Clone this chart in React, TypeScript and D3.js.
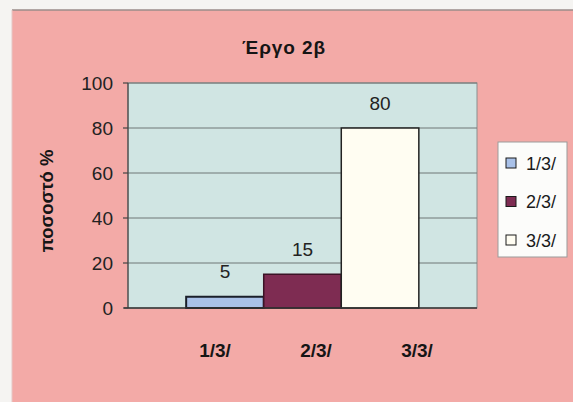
import React from "react";
import * as d3 from "d3";

// Chart data
const TITLE = "Έργο 2β";
const Y_TITLE = "ποσοστό %";
const series = ["1/3/", "2/3/", "3/3/"];
const values = [5, 15, 80];
const seriesColors = ["#a9c1e8", "#7e2c52", "#fffdf2"];
const seriesStrokes = ["#1a1f2a", "#3b1326", "#222222"];
const yTicks = [0, 20, 40, 60, 80, 100];
const categoryLabels = ["1/3/", "2/3/", "3/3/"];

const W = 573;
const H = 402;
const FONT = "'Liberation Sans', Arial, Helvetica, sans-serif";

export default function App() {
  React.useEffect(() => {
    document.body.style.margin = "0";
  }, []);

  const plot = { left: 128, right: 477, top: 83, bottom: 308 };

  const y = d3.scaleLinear().domain([0, 100]).range([plot.bottom, plot.top]);

  // one bar group centred in the plot, one bar per series
  const xGroup = d3
    .scaleBand<string>()
    .domain(["all"])
    .range([plot.left, plot.right])
    .paddingInner(0)
    .paddingOuter(0.25);
  const x1 = d3
    .scaleBand<string>()
    .domain(series)
    .range([0, xGroup.bandwidth()])
    .padding(0);
  const g0 = xGroup("all") ?? 0;

  // axis labels under the plot
  const xLab = d3.scalePoint<string>().domain(categoryLabels).range([215, 417]);

  const legend = { x: 498, y: 142, w: 69, h: 115 };
  const legendY = d3
    .scalePoint<string>()
    .domain(series)
    .range([legend.y + 21, legend.y + 98]);

  return (
    <svg width={W} height={H} style={{ display: "block" }} fontFamily={FONT}>
      <rect x={0} y={0} width={W} height={H} fill="#f5f4f2" />
      <rect x={12} y={10} width={W - 12} height={H - 10} fill="#f3aaa7" />
      <line x1={12} x2={W} y1={10} y2={10} stroke="#9a8c8a" strokeWidth={1.5} />
      <line x1={12} x2={12} y1={10} y2={H} stroke="#e6c8c6" strokeWidth={1} />

      {/* title */}
      <text
        x={284}
        y={53.5}
        textAnchor="middle"
        fontSize={19}
        fontWeight="bold"
        fill="#151515"
        letterSpacing={0.9}
      >
        {TITLE}
      </text>

      {/* plot area */}
      <rect
        x={plot.left}
        y={plot.top}
        width={plot.right - plot.left}
        height={plot.bottom - plot.top}
        fill="#d0e5e3"
        stroke="#8a8f90"
        strokeWidth={1}
      />

      {/* gridlines */}
      {yTicks
        .filter((t) => t > 0)
        .map((t) => (
          <line
            key={"g" + t}
            x1={plot.left}
            x2={plot.right}
            y1={y(t)}
            y2={y(t)}
            stroke="#6f7676"
            strokeWidth={1}
          />
        ))}

      {/* bars */}
      {series.map((s, i) => {
        const bx = g0 + (x1(s) ?? 0);
        const bw = x1.bandwidth();
        return (
          <rect
            key={s}
            x={bx}
            y={y(values[i])}
            width={bw}
            height={y(0) - y(values[i])}
            fill={seriesColors[i]}
            stroke={seriesStrokes[i]}
            strokeWidth={i === 0 ? 2 : 1.5}
          />
        );
      })}

      {/* value labels */}
      {series.map((s, i) => (
        <text
          key={"v" + s}
          x={g0 + (x1(s) ?? 0) + x1.bandwidth() / 2}
          y={y(values[i]) - 18.5}
          textAnchor="middle"
          fontSize={19}
          fill="#222"
        >
          {values[i]}
        </text>
      ))}

      {/* y axis */}
      <line
        x1={plot.left}
        x2={plot.left}
        y1={plot.top}
        y2={plot.bottom}
        stroke="#444"
        strokeWidth={1.2}
      />
      <line
        x1={plot.left - 4}
        x2={plot.right}
        y1={plot.bottom}
        y2={plot.bottom}
        stroke="#333"
        strokeWidth={1.5}
      />
      {yTicks.map((t) => (
        <g key={"t" + t}>
          <line
            x1={plot.left - 5}
            x2={plot.left}
            y1={y(t)}
            y2={y(t)}
            stroke="#444"
            strokeWidth={1.2}
          />
          <text
            x={113}
            y={y(t) + 7}
            textAnchor="end"
            fontSize={19}
            fill="#222"
          >
            {t}
          </text>
        </g>
      ))}

      {/* y axis title */}
      <text
        transform={`translate(53,201) rotate(-90)`}
        textAnchor="middle"
        fontSize={18.5}
        fontWeight="bold"
        fill="#151515"
      >
        {Y_TITLE}
      </text>

      {/* category labels */}
      {categoryLabels.map((c) => (
        <text
          key={"c" + c}
          x={xLab(c)}
          y={357}
          textAnchor="middle"
          fontSize={19}
          fontWeight="bold"
          fill="#151515"
        >
          {c}
        </text>
      ))}

      {/* legend */}
      <rect
        x={legend.x}
        y={legend.y}
        width={legend.w}
        height={legend.h}
        fill="#fcfcfa"
        stroke="#9b9b9b"
        strokeWidth={1}
      />
      {series.map((s, i) => {
        const cy = legendY(s) ?? 0;
        return (
          <g key={"l" + s}>
            <rect
              x={506}
              y={cy - 5}
              width={10}
              height={10}
              fill={seriesColors[i]}
              stroke="#1a1a1a"
              strokeWidth={1}
            />
            <text x={526} y={cy + 6.5} fontSize={18} fill="#1a1a1a">
              {s}
            </text>
          </g>
        );
      })}
    </svg>
  );
}
